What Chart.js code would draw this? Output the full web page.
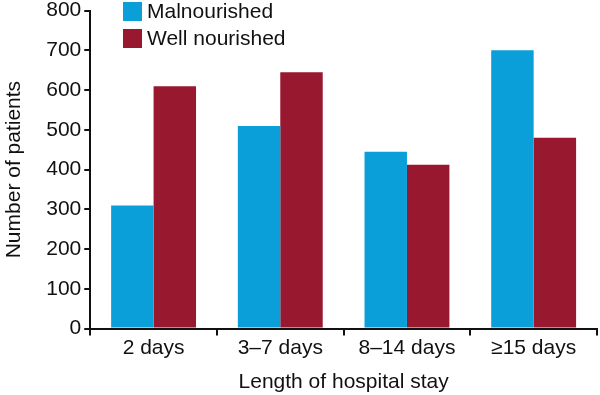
<!DOCTYPE html>
<html>
<head>
<meta charset="utf-8">
<script src="https://cdn.jsdelivr.net/npm/chart.js@4/dist/chart.umd.min.js"></script>
<style>
  html, body { margin: 0; padding: 0; background: #fff; overflow: hidden; }
  #wrap { width: 600px; height: 400px; margin-top: -5px; }
</style>
</head>
<body>
<div id="wrap"><canvas id="stayChart"></canvas></div>
<script>
const categories = ['2 days', '3\u20137 days', '8\u201314 days', '\u226515 days'];
const malnourished = [310, 510, 445, 700];
const wellNourished = [610, 645, 412, 480];
const yTicks = [0, 100, 200, 300, 400, 500, 600, 700, 800];

const font = { family: 'Liberation Sans, Arial, sans-serif', size: 21 };

// legend drawn inside the plot, top left
const innerLegend = {
  id: 'innerLegend',
  afterDraw(chart) {
    const ctx = chart.ctx;
    ctx.save();
    ctx.font = '21px ' + font.family;
    ctx.textBaseline = 'middle';
    chart.data.datasets.forEach((ds, i) => {
      const y = 16 + i * 27;
      ctx.fillStyle = ds.backgroundColor;
      ctx.fillRect(123, y - 9, 19, 19);
      ctx.fillStyle = '#111';
      ctx.fillText(ds.label, 147, y + 1);
    });
    ctx.restore();
  }
};

new Chart(document.getElementById('stayChart'), {
  type: 'bar',
  data: {
    labels: categories,
    datasets: [
      { label: 'Malnourished', data: malnourished, backgroundColor: '#0a9fd8' },
      { label: 'Well nourished', data: wellNourished, backgroundColor: '#97182f' }
    ]
  },
  options: {
    responsive: true,
    maintainAspectRatio: false,
    animation: false,
    layout: { padding: { top: 0, right: 3, left: 0, bottom: 0 } },
    plugins: { legend: { display: false }, tooltip: { enabled: false } },
    datasets: { bar: { categoryPercentage: 0.67, barPercentage: 1 } },
    scales: {
      x: {
        grid: { drawOnChartArea: false, drawTicks: true, tickLength: 7, color: '#111', lineWidth: 2 },
        border: { color: '#111', width: 2 },
        ticks: { color: '#111', font: font, padding: 0 },
        title: { display: true, text: 'Length of hospital stay', color: '#111', font: font, padding: { top: 9, bottom: 0 } }
      },
      y: {
        min: 0,
        max: 800,
        afterBuildTicks(axis) { axis.ticks = yTicks.map(v => ({ value: v })); },
        grid: { drawOnChartArea: false, drawTicks: true, tickLength: 6, color: '#111', lineWidth: 2 },
        border: { color: '#111', width: 2 },
        ticks: { color: '#111', font: font, padding: 3 },
        title: { display: true, text: 'Number of patients', color: '#111', font: font, padding: { top: 2, bottom: 16 } }
      }
    }
  },
  plugins: [innerLegend]
});
</script>
</body>
</html>
